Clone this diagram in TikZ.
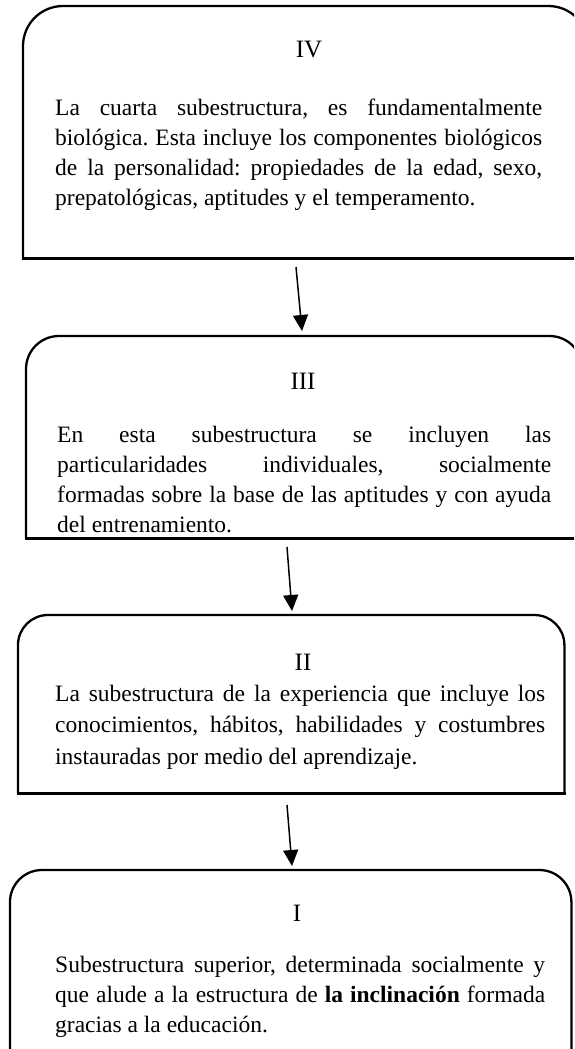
\documentclass[tikz,border=0pt]{standalone}
\usepackage{fontspec}
\setmainfont{Liberation Serif}
\usetikzlibrary{arrows.meta}
\hbadness=10000
\frenchspacing
\begin{document}
\begin{tikzpicture}[x=1pt,y=-1pt,
  frame/.style={draw=none, inner sep=0pt, anchor=north west},
  outline/.style={line width=2.3pt, rounded corners=#1},
  bottomline/.style={line width=2.3pt, line cap=rect},
  ttl/.style={font=\fontsize{25}{30}\selectfont, inner sep=0pt, anchor=base},
  body/.style={font=\fontsize{23.5}{30}\selectfont\frenchspacing, inner sep=0pt, anchor=base west, align=justify, text width=#1},
  conn/.style={line width=1.5pt, -{Triangle[length=16pt,width=15pt]}}]
\useasboundingbox (0,0) rectangle (574,1049);
\clip (0,0) rectangle (574,1049);

% frames
\node[frame, minimum width=565pt, minimum height=252pt] (IV) at (23,6) {};
\node[frame, minimum width=556pt, minimum height=202pt] (III) at (26,336) {};
\node[frame, minimum width=546pt, minimum height=178pt] (II) at (18,615) {};
\node[frame, minimum width=561pt, minimum height=230pt] (I) at (10,870) {};

\draw[outline=40pt] (IV.south west) -- (IV.north west) -- (IV.north east) -- (IV.south east);
\draw[bottomline] (IV.south west) -- (IV.south east);
\draw[outline=33pt] (III.south west) -- (III.north west) -- (III.north east) -- (III.south east);
\draw[bottomline] (III.south west) -- (III.south east);
\draw[outline=30pt] (II.south west) -- (II.north west) -- (II.north east) -- (II.south east);
\draw[bottomline] (II.south west) -- (II.south east);
\draw[outline=32pt] (I.south west) -- (I.north west) -- (I.north east) -- (I.south east);

% texts
\node[ttl] (tIV) at (309,57) {IV};
\node[body=487pt] (bIV) at (55,115) {La cuarta subestructura, es fundamentalmente\linebreak
biológica. Esta incluye los componentes biológicos\linebreak
de la personalidad: propiedades de la edad, sexo,\linebreak
prepatológicas, aptitudes y el temperamento.};

\node[ttl] (tIII) at (303,389) {III};
\node[body=494pt] (bIII) at (57,442) {En esta subestructura se incluyen las\linebreak
particularidades individuales, socialmente\linebreak
formadas sobre la base de las aptitudes y con ayuda\linebreak
del entrenamiento.};

\node[ttl] (tII) at (303,670) {II};
\node[body=490pt, font=\fontsize{23.5}{31.5}\selectfont] (bII) at (55,701) {La subestructura de la experiencia que incluye los\linebreak
conocimientos, hábitos, habilidades y costumbres\linebreak
instauradas por medio del aprendizaje.};

\node[ttl] (tI) at (297,921) {I};
\node[body=490pt] (bI) at (55,972) {Subestructura superior, determinada socialmente y\linebreak
que alude a la estructura de \textbf{la inclinación} formada\linebreak
gracias a la educación.};

% connectors
\coordinate (a1s) at (296,267);
\coordinate (a1e) at (302,331);
\coordinate (a2s) at (287,547);
\coordinate (a2e) at (292,611);
\coordinate (a3s) at (287,805);
\coordinate (a3e) at (292,866);
\draw[conn] (a1s) -- (a1e);
\draw[conn] (a2s) -- (a2e);
\draw[conn] (a3s) -- (a3e);
\end{tikzpicture}
\end{document}
